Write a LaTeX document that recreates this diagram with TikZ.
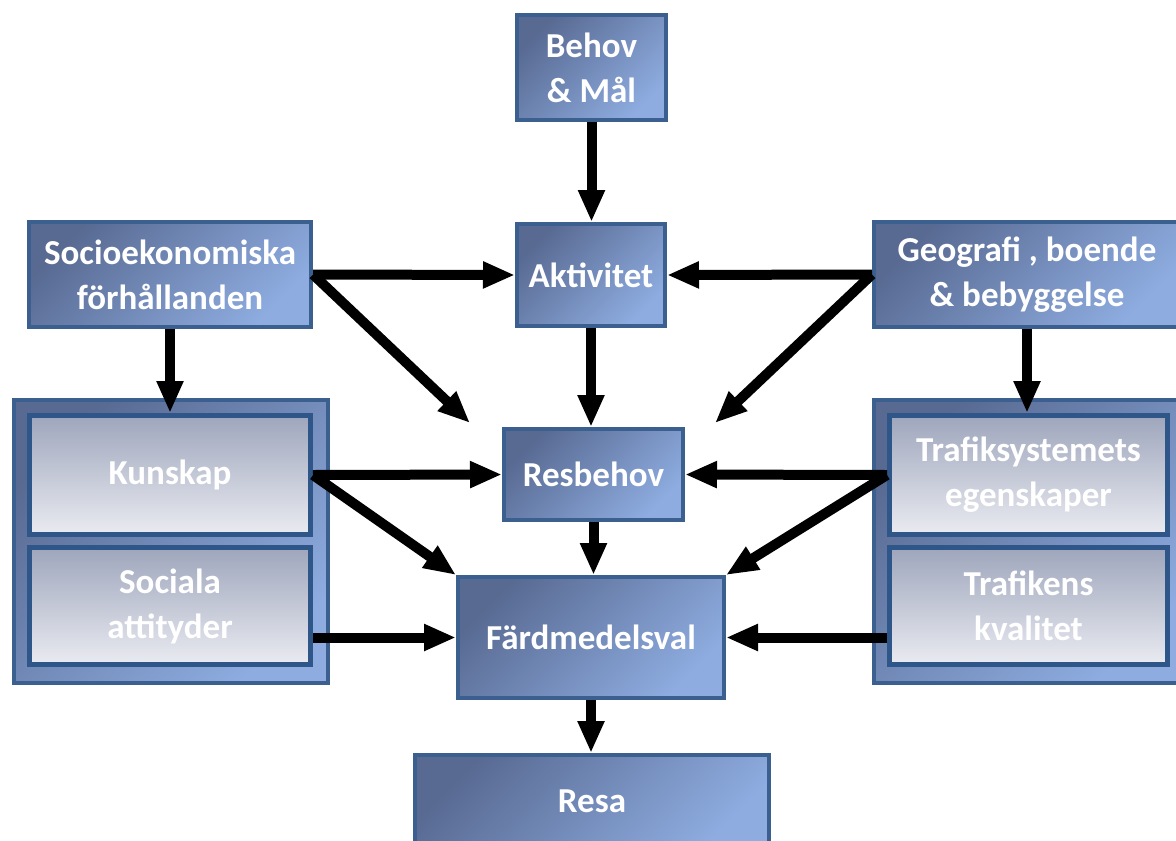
\documentclass[tikz,border=0pt]{standalone}
\usepackage{fontspec}
\setmainfont{Carlito}
\usetikzlibrary{arrows.meta}

\definecolor{boxdark}{RGB}{88,106,146}
\definecolor{boxlight}{RGB}{142,172,224}
\definecolor{boxline}{RGB}{59,96,144}
\definecolor{greytop}{RGB}{158,166,188}
\definecolor{greybot}{RGB}{234,235,241}
\definecolor{greyline}{RGB}{46,86,136}

\tikzset{
  boxfont/.style={font=\fontsize{35}{45}\selectfont\bfseries},
  bluebox/.style={draw=boxline, line width=4pt, top color=boxdark, bottom color=boxlight,
    shading angle=45, inner sep=0pt, align=center, text=white, boxfont},
  greybox/.style={draw=greyline, line width=5pt, top color=greytop, bottom color=greybot,
    inner sep=0pt, align=center, text=white, boxfont},
  groupbox/.style={draw=boxline, line width=4pt, top color=boxdark, bottom color=boxlight,
    shading angle=45, inner sep=0pt},
  flow/.style={draw=black, line width=10pt, -{Triangle[length=32pt,width=25pt]}}
}

\begin{document}
\begin{tikzpicture}[x=1pt,y=-1pt]
  \useasboundingbox (0,0) rectangle (1176,841);
  \clip (0,0) rectangle (1176,841);

  % boxes of the central chain
  \node[bluebox, minimum width=149pt, minimum height=105pt] (beh) at (591.5,67.5) {Behov\\\& Mål};
  \node[bluebox, minimum width=148pt, minimum height=102pt] (akt) at (591,275) {Aktivitet};
  \node[bluebox, minimum width=179pt, minimum height=91pt] (res) at (593.5,474.5) {Resbehov};
  \node[bluebox, minimum width=266pt, minimum height=121pt] (fard) at (591,637.5) {Färdmedelsval};
  \node[bluebox, minimum width=354pt, minimum height=93pt] (resa) at (592,801.5) {Resa};

  % side factors
  \node[bluebox, minimum width=282pt, minimum height=105pt] (soc) at (170,274.5) {Socioekonomiska\\förhållanden};
  \node[bluebox, minimum width=306pt, minimum height=105pt] (geo) at (1027,274.5) {Geografi , boende\\\& bebyggelse};

  % left group
  \node[groupbox, minimum width=314pt, minimum height=283pt] (kgrp) at (171,541.5) {};
  \node[greybox, minimum width=281pt, minimum height=119pt] (kun) at (170,475) {Kunskap};
  \node[greybox, minimum width=281pt, minimum height=117pt] (soa) at (170,606) {Sociala\\attityder};

  % right group
  \node[groupbox, minimum width=310pt, minimum height=283pt] (tgrp) at (1029,541.5) {};
  \node[greybox, minimum width=278pt, minimum height=119pt] (tra) at (1028.5,475) {Trafiksystemets\\egenskaper};
  \node[greybox, minimum width=278pt, minimum height=117pt] (trk) at (1028.5,606) {Trafikens\\kvalitet};

  % influences
  \draw[flow] (beh.south) -- (beh.south |- akt.north);
  \draw[flow] (soc.east) -- (akt.west);
  \draw[flow] (soc.east) -- ([xshift=-32pt,yshift=4pt]res.north west);
  \draw[flow] (geo.west) -- (akt.east);
  \draw[flow] (geo.west) -- ([xshift=30pt,yshift=4pt]res.north east);
  \draw[flow] (akt.south) -- (akt.south |- res.north);
  \draw[flow] (soc.south) -- (soc.south |- kun.north);
  \draw[flow] (geo.south) -- (geo.south |- tra.north);
  \draw[flow] (kun.east) -- (res.west);
  \draw[flow] (kun.east) -- (fard.north west);
  \draw[flow] (tra.west) -- (res.east);
  \draw[flow] (tra.west) -- (fard.north east);
  \draw[flow] (res.south) -- (res.south |- fard.north);
  \draw[flow] (soa.east |- fard.west) -- (fard.west);
  \draw[flow] (trk.west |- fard.east) -- (fard.east);
  \draw[flow] (fard.south) -- (fard.south |- resa.north);
\end{tikzpicture}
\end{document}
